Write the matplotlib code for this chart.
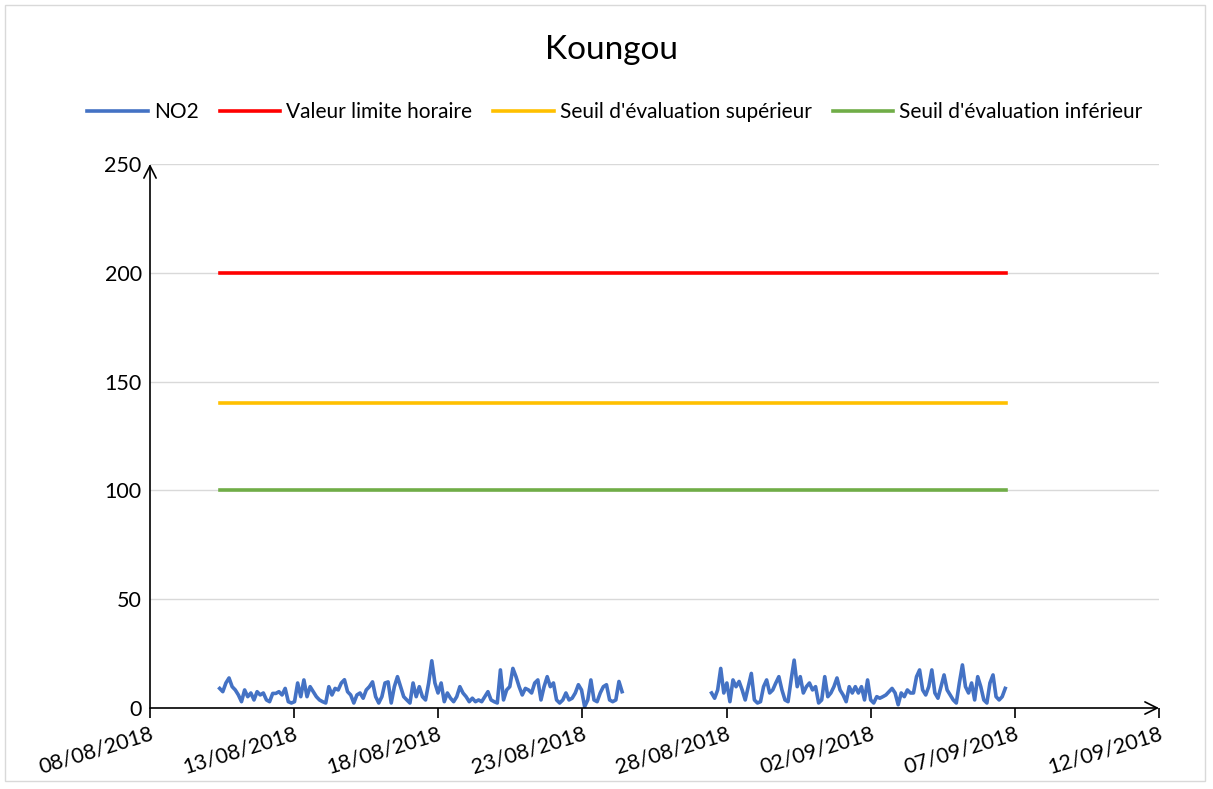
import numpy as np
import pandas as pd
import matplotlib
matplotlib.use("Agg")
import matplotlib.pyplot as plt
import matplotlib.dates as mdates
from matplotlib.patches import Rectangle

plt.rcParams['font.family'] = ['Lato', 'DejaVu Sans']

title = "Koungou"

no2_start_1, no2_end_1 = "2018-08-10 10:00", "2018-08-24 09:00"
no2_part1 = [9, 7.5, 11.5, 13.8, 9.8, 8.3, 6, 2.9, 8.3, 5.2, 6.9, 3.7, 7.5, 6, 6.9,
             3.7, 2.9, 6.7, 6.7, 7.5, 6, 9, 2.9, 2.3, 2.9, 11.5, 5.2, 12.9, 5.2, 9.8,
             7.5, 5.2, 3.7, 2.9, 2.3, 9.8, 6, 9, 8.3, 11.5, 13, 7.5, 6, 2.3, 6,
             6.9, 4.5, 8.3, 9.8, 12, 5.2, 2.3, 5.2, 11.5, 12, 2.3, 9.8, 14.4, 9.8, 5.2,
             3.7, 2.3, 11.5, 5.2, 9.8, 5.2, 3.7, 11.5, 21.7, 11.5, 6.9, 11.5, 2.9, 6.9, 4.5,
             2.9, 5.2, 9.8, 6.9, 5.2, 2.9, 4.5, 2.9, 3.7, 2.9, 5.2, 7.5, 3.7, 2.9, 2.3,
             17.5, 3.7, 8.3, 9.8, 18.2, 14.4, 9.8, 6, 9, 8.3, 6.9, 11.5, 12.9, 3.7, 9.8,
             14.4, 9.8, 11.5, 3.7, 2.3, 3.7, 6.9, 3.7, 4.5, 6.9, 10.7, 8.3, 0.6, 3.7, 12.9,
             3.7, 2.9, 6.9, 9.8, 10.7, 3.7, 2.9, 3.7, 12.2, 7.5]

no2_start_2, no2_end_2 = "2018-08-27 11:30", "2018-09-06 16:00"
no2_part2 = [6.9, 4.5, 8.3, 18.2, 6.9, 11.5, 2.9, 12.9, 9.8, 12.2, 8.3, 3.7, 9.8, 15.9, 3.7,
             2.3, 2.9, 9.8, 12.9, 6.9, 8.3, 11.5, 14.4, 8.3, 3.7, 2.9, 12.9, 22, 9.8, 14.4,
             6.9, 9.8, 11.5, 8.3, 9.8, 2.3, 3.7, 14.4, 5.2, 6.9, 9.8, 13.8, 8.3, 6, 2.9,
             9.8, 6.9, 9.8, 6.9, 9.8, 3.7, 12.9, 3.7, 2.3, 5.2, 4.5, 5.2, 6, 7.5, 9,
             6.9, 1.5, 6.9, 5.2, 8.3, 6.9, 6.9, 14.4, 17.5, 8.3, 6, 9.8, 17.5, 6.9, 4.5,
             9.8, 15.2, 8.3, 6, 3.7, 2.3, 11.5, 19.8, 9.8, 6.9, 11.5, 3.7, 14.4, 9.8, 3.7,
             2.3, 11.5, 15.2, 5.2, 3.7, 5.2, 9]

# regulatory thresholds, drawn over the whole campaign
limit_start, limit_end = "2018-08-10 10:00", "2018-09-06 17:00"
limit_names = ["Valeur limite horaire", "Seuil d'évaluation supérieur",
               "Seuil d'évaluation inférieur"]
limit_values = [200, 140, 100]
limit_colors = ["#FF0000", "#FFC000", "#70AD47"]

x_start, x_end = "2018-08-08", "2018-09-12"
y_max, y_step = 250, 50

fig = plt.figure(figsize=(12.13, 7.89), dpi=100)
ax = fig.add_axes([150 / 1213, 1 - 708 / 789, (1159 - 150) / 1213, (708 - 164) / 789])

t1 = pd.date_range(no2_start_1, no2_end_1, periods=len(no2_part1))
t2 = pd.date_range(no2_start_2, no2_end_2, periods=len(no2_part2))
ax.plot(t1, no2_part1, color="#4472C4", lw=2.6, solid_joinstyle="round", label="NO2")
ax.plot(t2, no2_part2, color="#4472C4", lw=2.6, solid_joinstyle="round")

t_lim = pd.to_datetime([limit_start, limit_end])
for name, val, col in zip(limit_names, limit_values, limit_colors):
    ax.plot(t_lim, [val, val], color=col, lw=2.6, label=name)

ax.set_xlim(pd.Timestamp(x_start), pd.Timestamp(x_end))
ax.set_ylim(0, y_max)
ax.set_yticks(np.arange(0, y_max + 1, y_step))
ax.yaxis.grid(True, color="#D9D9D9", lw=1)
ax.set_axisbelow(True)
ax.tick_params(axis="y", length=0, pad=6, labelsize=15.5)

ax.set_xticks(pd.date_range(x_start, x_end, freq="5D"))
ax.xaxis.set_major_formatter(mdates.DateFormatter("%d/%m/%Y"))
ax.tick_params(axis="x", direction="out", length=7, width=1.2, labelsize=15.5, pad=4)
for lbl in ax.get_xticklabels():
    lbl.set_rotation(17)
    lbl.set_ha("right")
    lbl.set_rotation_mode("anchor")

for s in ["top", "right", "left", "bottom"]:
    ax.spines[s].set_visible(False)

# axes with arrow heads
arrow = dict(arrowstyle="->", color="black", lw=1.2, mutation_scale=22, shrinkA=0, shrinkB=0)
ax.annotate("", xy=(0, 1.0), xytext=(0, 0), xycoords="axes fraction", arrowprops=arrow)
ax.annotate("", xy=(1.0, 0), xytext=(0, 0), xycoords="axes fraction", arrowprops=arrow)

fig.suptitle(title, x=0.504, y=1 - 50 / 789, va="center", fontsize=24)
fig.legend(loc="center", bbox_to_anchor=(0.507, 1 - 112 / 789), ncol=4, frameon=False,
           fontsize=15, handlelength=2.9, handletextpad=0.3, columnspacing=1.0)

fig.patches.append(Rectangle((5 / 1213, 1 - 781 / 789), 1200 / 1213, 776 / 789,
                             transform=fig.transFigure, fill=False, ec="#D9D9D9", lw=1))

fig.savefig("out.png", dpi=100)
